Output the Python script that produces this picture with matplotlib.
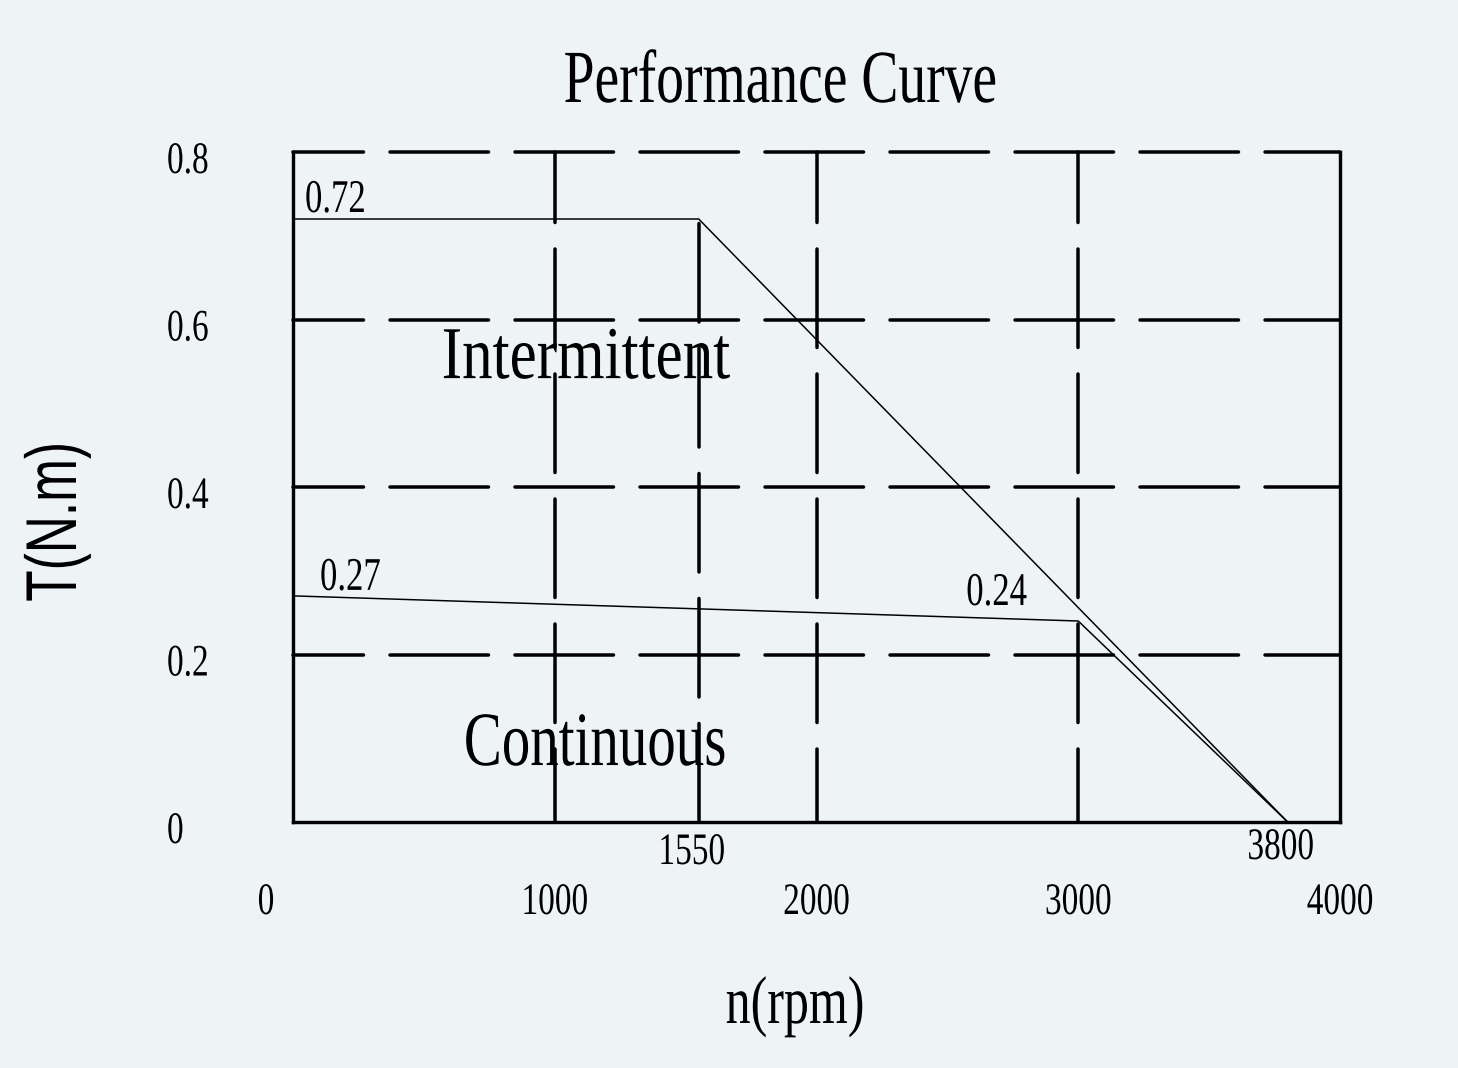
import matplotlib
matplotlib.use('Agg')
import matplotlib.pyplot as plt
import matplotlib.transforms as mtransforms
from matplotlib.patheffects import AbstractPathEffect

#-----------------------------------------------
# datos de la curva
rpm_inter = [0, 1550, 3800]
torque_inter = [0.72, 0.72, 0.0]
rpm_cont = [0, 3000, 3800]
torque_cont = [0.27, 0.24, 0.0]

x_ticks = [0, 1000, 2000, 3000, 4000]
x_tick_labels = ['0', '1000', '2000', '3000', '4000']
y_ticks = [0.0, 0.2, 0.4, 0.6, 0.8]
y_tick_labels = ['0', '0.2', '0.4', '0.6', '0.8']
x_grid = [1000, 2000, 3000]
y_grid = [0.2, 0.4, 0.6, 0.8]
x_marks = [1550, 3800]
x_mark_labels = ['1550', '3800']
point_labels = ['0.72', '0.27', '0.24']
point_xy = [(0, 0.72), (0, 0.27), (3000, 0.24)]
#-----------------------------------------------

W, H = 1458, 1068
BG = '#eef3f6'
PX = 0.72  # px -> pt a 100 dpi

plt.rcParams['lines.scale_dashes'] = False


class Tall(AbstractPathEffect):
	"""estira el texto en vertical desde la linea base (letra tipo CAD)"""
	def __init__(self, k):
		super().__init__()
		self.k = k

	def draw_path(self, renderer, gc, tpath, affine, rgbFace=None):
		renderer.draw_path(gc, tpath, mtransforms.Affine2D().scale(1, self.k) + affine, rgbFace)


tall = [Tall(1.35)]
serif = 'Liberation Serif'

fig = plt.figure(figsize=(W / 100, H / 100), dpi=100)
fig.patch.set_facecolor(BG)
ax = fig.add_axes([293 / W, 1 - 822 / H, (1340 - 293) / W, (822 - 152) / H])
ax.set_facecolor(BG)
ax.set_xlim(0, 4000)
ax.set_ylim(0, 0.8)
ax.set_xticks([])
ax.set_yticks([])
for s in ['left', 'right', 'bottom']:
	ax.spines[s].set_linewidth(3.4 * PX)
ax.spines['top'].set_visible(False)

# rejilla discontinua
dash = (28 * PX, (98.5 * PX, 26.5 * PX))
for y in y_grid:
	ax.plot([0, 4000], [y, y], color='black', lw=3.5 * PX, linestyle=dash,
			dash_capstyle='round', clip_on=False, zorder=2)
for x in x_grid:
	ax.plot([x, x], [0.8, 0], color='black', lw=3.5 * PX, linestyle=dash,
			dash_capstyle='round', clip_on=False, zorder=2)
ax.plot([x_marks[0], x_marks[0]], [0, torque_inter[1]], color='black', lw=3.5 * PX,
		linestyle=(0, (98.5 * PX, 26.5 * PX)), dash_capstyle='round', zorder=2)

# curvas
ax.plot(rpm_inter, torque_inter, color='black', lw=1.5 * PX, zorder=3)
ax.plot(rpm_cont, torque_cont, color='black', lw=1.5 * PX, zorder=3)

# etiquetas de los ejes
ytrans = mtransforms.blended_transform_factory(fig.transFigure, ax.transData)
yoff = mtransforms.ScaledTranslation(0, -21 / 100, fig.dpi_scale_trans)
for v, l in zip(y_ticks, y_tick_labels):
	ax.text(167 / W, v, l, transform=ytrans + yoff, ha='left', va='baseline',
			fontsize=24, family=serif, path_effects=tall)

xtrans = mtransforms.blended_transform_factory(ax.transData, fig.transFigure)
for v, l in zip(x_ticks, x_tick_labels):
	t = xtrans
	if v == 0:
		t = xtrans + mtransforms.ScaledTranslation(-27 / 100, 0, fig.dpi_scale_trans)
	ax.text(v, 1 - 914 / H, l, transform=t, ha='center', va='baseline',
			fontsize=24, family=serif, path_effects=tall)

moff = mtransforms.ScaledTranslation(-7 / 100, 0, fig.dpi_scale_trans)
for v, l, b in zip(x_marks, x_mark_labels, [864, 859]):
	ax.text(v, 1 - b / H, l, transform=xtrans + moff, ha='center', va='baseline',
			fontsize=24, family=serif, path_effects=tall)

for l, xy, off in zip(point_labels, point_xy, [(12, 7), (27, 6), (-112, 16)]):
	ax.annotate(l, xy=xy, xytext=off, textcoords='offset pixels', ha='left',
				va='baseline', fontsize=25, family=serif, path_effects=tall)

ax.text(1119, 0.530, 'Intermittent', ha='center', va='baseline', fontsize=44,
		family=serif, path_effects=[Tall(1.22)])
ax.text(1154, 0.068, 'Continuous', ha='center', va='baseline', fontsize=41,
		family=serif, path_effects=tall)

fig.text(780 / W, 1 - 102 / H, 'Performance Curve', ha='center', va='baseline',
		 fontsize=40, family=serif, path_effects=tall)
fig.text(795 / W, 1 - 1023 / H, 'n(rpm)', ha='center', va='baseline',
		 fontsize=36, family=serif, path_effects=tall)
fig.text(76 / W, 1 - 522 / H, 'T(N.m)', rotation=90, rotation_mode='anchor',
		 ha='center', va='baseline', fontsize=37, family='Liberation Sans',
		 path_effects=[Tall(1.4)])

plt.savefig('out.png', dpi=100, facecolor=BG)
plt.close(fig)
